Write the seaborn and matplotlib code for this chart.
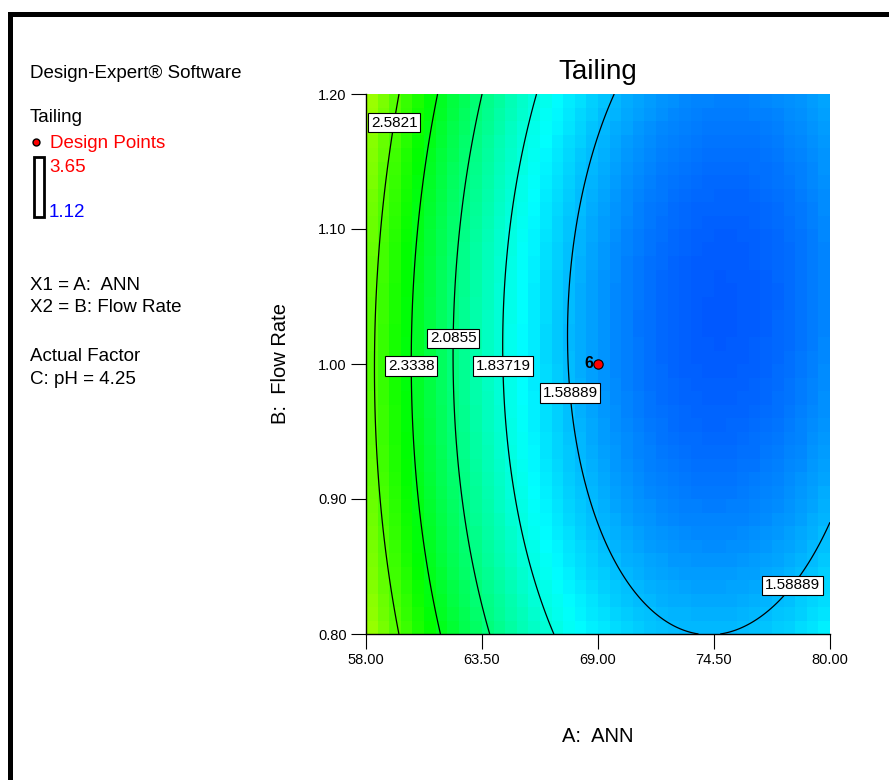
import numpy as np
import matplotlib
matplotlib.use("Agg")
import matplotlib.pyplot as plt
import seaborn as sns
from matplotlib.colors import LinearSegmentedColormap
from matplotlib.lines import Line2D
from matplotlib.patches import Rectangle

# factor ranges / ticks
ann_ticks = [58.00, 63.50, 69.00, 74.50, 80.00]
flow_ticks = [0.80, 0.90, 1.00, 1.10, 1.20]

# Tailing at the tick crossings (rows = flow rate, cols = ANN)
tailing_080 = [2.804, 2.122, 1.717, 1.584, 1.739]
tailing_090 = [2.681, 1.986, 1.568, 1.428, 1.566]
tailing_100 = [2.643, 1.935, 1.505, 1.352, 1.477]
tailing_110 = [2.689, 1.968, 1.525, 1.360, 1.472]
tailing_120 = [2.819, 2.086, 1.631, 1.453, 1.552]

contour_levels = [1.58889, 1.83719, 2.0855, 2.3338, 2.5821]
contour_names = ["1.58889", "1.83719", "2.0855", "2.3338", "2.5821"]

design_ann = [69.00]
design_flow = [1.00]
design_ids = ["6"]

tailing_min = 1.12
tailing_max = 3.65


def coded(a, b):
    xa = (np.asarray(a) - 69.0) / 11.0
    xb = (np.asarray(b) - 1.0) / 0.2
    return np.stack([np.ones_like(xa), xa, xb, xa * xb, xa ** 2, xb ** 2], axis=-1)


# quadratic response surface through the read values (like Design-Expert does)
grid = np.array([tailing_080, tailing_090, tailing_100, tailing_110, tailing_120])
AA, BB = np.meshgrid(ann_ticks, flow_ticks)
coef, *_ = np.linalg.lstsq(coded(AA, BB).reshape(-1, 6), grid.ravel(), rcond=None)

sns.set_style("white")
plt.rcParams["font.family"] = ["Liberation Sans", "DejaVu Sans"]
plt.rcParams["text.color"] = "black"
plt.rcParams["axes.labelcolor"] = "black"

fig = plt.figure(figsize=(8.89, 7.80), dpi=100)
ax = fig.add_axes([366 / 889, 1 - 634 / 780, 464 / 889, 540 / 780])

cmap = LinearSegmentedColormap.from_list(
    "de", ["#0000FF", "#00FFFF", "#00FF00", "#FFFF00", "#FF0000"])

# blocky colour field, 40 x 40 cells
a_edges = np.linspace(58, 80, 41)
b_edges = np.linspace(0.8, 1.2, 41)
ac = (a_edges[:-1] + a_edges[1:]) / 2
bc = (b_edges[:-1] + b_edges[1:]) / 2
Ac, Bc = np.meshgrid(ac, bc)
Zc = coded(Ac, Bc) @ coef
ax.pcolormesh(a_edges, b_edges, Zc, cmap=cmap, vmin=tailing_min, vmax=tailing_max,
              shading="flat")

# smooth contour lines
af = np.linspace(58, 80, 300)
bf = np.linspace(0.8, 1.2, 300)
Af, Bf = np.meshgrid(af, bf)
Zf = coded(Af, Bf) @ coef
cs = ax.contour(Af, Bf, Zf, levels=contour_levels, colors="black", linewidths=0.9)

label_spots = [(59.28, 1.179), (62.10, 1.019), (60.13, 0.9985),
               (64.47, 0.9985), (67.70, 0.9785), (77.96, 0.8393)]
fmt = dict(zip(contour_levels, contour_names))
texts = ax.clabel(cs, fmt=fmt, manual=label_spots, inline=False, fontsize=11)
for t in texts:
    t.set_rotation(0)
    t.set_color("black")
    t.set_bbox(dict(boxstyle="square,pad=0.17", facecolor="white",
                    edgecolor="black", linewidth=0.8))
    t.set_zorder(5)

sns.scatterplot(x=design_ann, y=design_flow, color="red", edgecolor="black",
                s=45, linewidth=0.8, zorder=6, ax=ax, legend=False)
for a, b, n in zip(design_ann, design_flow, design_ids):
    ax.annotate(n, (a, b), xytext=(-3, 0), textcoords="offset points",
                ha="right", va="center", fontsize=11.5, fontweight="bold", zorder=7)

ax.set_xlim(58, 80)
ax.set_ylim(0.8, 1.2)
ax.set_xticks(ann_ticks)
ax.set_xticklabels([f"{v:.2f}" for v in ann_ticks])
ax.set_yticks(flow_ticks)
ax.set_yticklabels([f"{v:.2f}" for v in flow_ticks])
ax.tick_params(axis="both", direction="out", length=11, width=0.8, pad=3,
               labelsize=10.5, colors="black", bottom=True, left=True)
for side in ["top", "right"]:
    ax.spines[side].set_visible(False)
for side in ["bottom", "left"]:
    ax.spines[side].set_linewidth(1.0)
    ax.spines[side].set_color("black")

ax.set_title("Tailing", fontsize=20, pad=11, color="black")
ax.set_xlabel("A:  ANN", fontsize=14.5, va="center")
ax.xaxis.set_label_coords(0.5, -(737 - 634) / 540)
ax.set_ylabel("B:  Flow Rate", fontsize=14.5, va="center")
ax.yaxis.set_label_coords(-(366 - 280) / 464, 0.5)

# left info panel
def ftext(x, y, s, **kw):
    fig.text(x / 889, 1 - y / 780, s, va="center", ha="left", fontsize=13.5, **kw)

ftext(30, 73, "Design-Expert® Software")
ftext(30, 118, "Tailing")
fig.add_artist(Line2D([36 / 889], [1 - 142 / 780], marker="o", markersize=5,
                      markerfacecolor="red", markeredgecolor="black", linestyle=""))
ftext(50, 143, "Design Points", color="red")
fig.add_artist(Rectangle((34 / 889, 1 - 217 / 780), 10 / 889, 60 / 780,
                         transform=fig.transFigure, fill=False, edgecolor="black",
                         linewidth=2))
ftext(49, 167, f"{tailing_max:.2f}", color="red")
ftext(49, 213, f"{tailing_min:.2f}", color="blue")
ftext(30, 285, "X1 = A:  ANN")
ftext(30, 308, "X2 = B: Flow Rate")
ftext(30, 357, "Actual Factor")
ftext(30, 379, "C: pH = 4.25")

# outer frame (top and left edges visible)
fig.add_artist(Line2D([9.8 / 889, 1.01], [1 - 14.3 / 780, 1 - 14.3 / 780],
                      color="black", linewidth=3.6, solid_capstyle="projecting"))
fig.add_artist(Line2D([9.8 / 889, 9.8 / 889], [-0.01, 1 - 14.3 / 780],
                      color="black", linewidth=3.6, solid_capstyle="projecting"))

fig.savefig("out.png", dpi=100, facecolor="white")
